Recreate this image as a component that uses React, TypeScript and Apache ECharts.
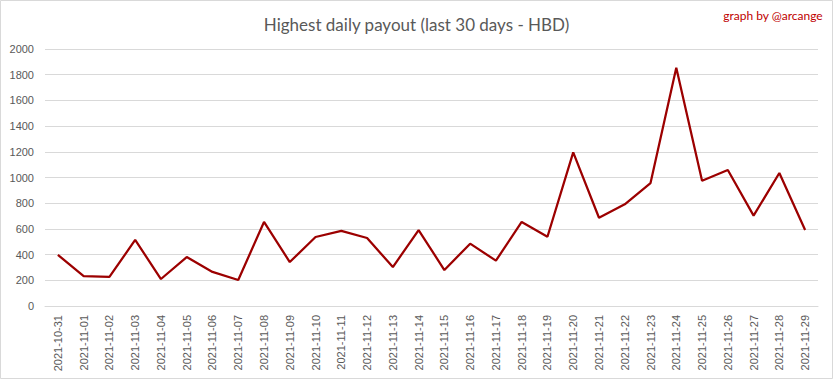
import React, { useEffect, useRef } from "react";
import * as echarts from "echarts";

const categories = [
  "2021-10-31", "2021-11-01", "2021-11-02", "2021-11-03", "2021-11-04", "2021-11-05",
  "2021-11-06", "2021-11-07", "2021-11-08", "2021-11-09", "2021-11-10", "2021-11-11",
  "2021-11-12", "2021-11-13", "2021-11-14", "2021-11-15", "2021-11-16", "2021-11-17",
  "2021-11-18", "2021-11-19", "2021-11-20", "2021-11-21", "2021-11-22", "2021-11-23",
  "2021-11-24", "2021-11-25", "2021-11-26", "2021-11-27", "2021-11-28", "2021-11-29",
];

const payouts = [
  398, 233, 226, 514, 210, 381, 265, 202, 654, 342, 537, 584, 529, 303, 591,
  280, 485, 353, 654, 539, 1196, 687, 791, 957, 1855, 975, 1058, 703, 1035, 591,
];

const titleText = "Highest daily payout (last 30 days - HBD)";
const creditText = "graph by @arcange";

export default function App() {
  const ref = useRef<HTMLDivElement>(null);
  useEffect(() => {
    document.body.style.margin = "0";
    if (!ref.current) return;
    const chart = echarts.init(ref.current, undefined, { renderer: "svg" });
    chart.setOption({
      animation: false,
      backgroundColor: "#ffffff",
      title: {
        text: titleText,
        left: "center",
        top: 11,
        textStyle: {
          fontFamily: "Lato",
          fontSize: 17,
          fontWeight: "normal",
          color: "#595959",
        },
      },
      graphic: [
        {
          type: "rect",
          shape: { x: 0.5, y: 0.5, width: 832, height: 378 },
          style: { fill: "none", stroke: "#d9d9d9", lineWidth: 1 },
        },
        {
          type: "text",
          right: 10,
          top: 9,
          style: {
            text: creditText,
            fill: "#c00000",
            font: "12px Lato",
          },
        },
      ],
      grid: { left: 45, right: 15, top: 49, bottom: 73 },
      xAxis: {
        type: "category",
        data: categories,
        boundaryGap: true,
        axisLine: { lineStyle: { color: "#d9d9d9" } },
        axisTick: { show: false },
        axisLabel: {
          rotate: 90,
          interval: 0,
          color: "#595959",
          fontFamily: "Liberation Sans",
          fontSize: 11,
          margin: 9,
        },
      },
      yAxis: {
        type: "value",
        min: 0,
        max: 2000,
        interval: 200,
        axisLine: { show: false },
        axisTick: { show: false },
        splitLine: { lineStyle: { color: "#d9d9d9", width: 1 } },
        axisLabel: {
          color: "#595959",
          fontFamily: "Liberation Sans",
          fontSize: 11,
          margin: 11,
          formatter: (v: number) => String(v),
        },
      },
      series: [
        {
          type: "line",
          data: payouts,
          symbol: "none",
          lineStyle: { color: "#9c0000", width: 2.25 },
        },
      ],
    });
    return () => chart.dispose();
  }, []);
  return <div ref={ref} style={{ width: 833, height: 379 }} />;
}
